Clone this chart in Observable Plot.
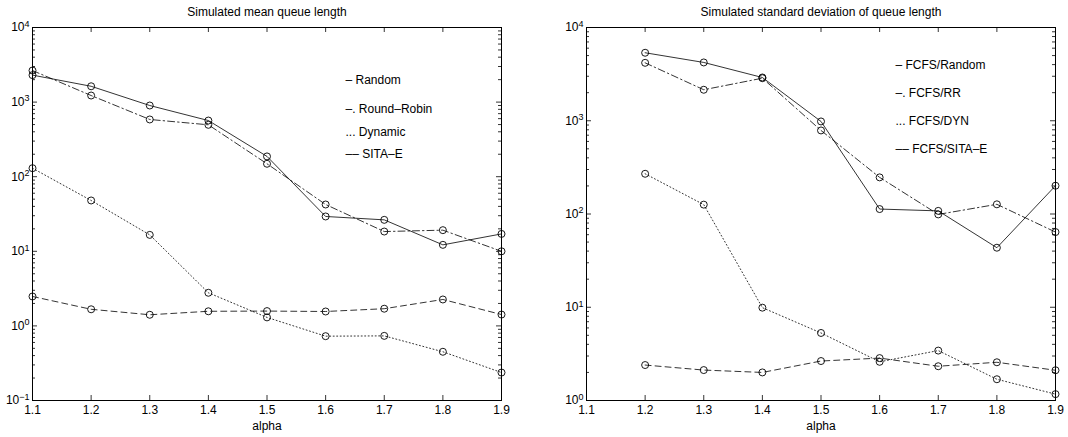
<!DOCTYPE html>
<html><head><meta charset="utf-8">
<script src="https://cdn.jsdelivr.net/npm/d3@7"></script>
<script src="https://cdn.jsdelivr.net/npm/@observablehq/plot@0.6"></script>
<style>
body{margin:0;background:#fff;}
#wrap{display:flex;width:1068px;height:437px;}
</style></head><body><div id="wrap"></div>
<script>
// ---- data ----
const alphaTicks = [1.1,1.2,1.3,1.4,1.5,1.6,1.7,1.8,1.9];
const alphaMean = [1.1,1.2,1.3,1.4,1.5,1.6,1.7,1.8,1.9];
const alphaStd = [1.2,1.3,1.4,1.5,1.6,1.7,1.8,1.9];

const meanRandom     = [2300,1630,900,566,187,29.3,26.4,12.2,17.1];
const meanRoundRobin = [2650,1225,585,496,149,42.4,18.4,19.2,10.0];
const meanDynamic    = [130,48,16.6,2.78,1.30,0.728,0.735,0.45,0.237];
const meanSitaE      = [2.48,1.67,1.41,1.57,1.58,1.56,1.70,2.26,1.42];

const stdRandom = [5360,4220,2910,983,113,108,43.5,201];
const stdRR     = [4180,2150,2860,787,247,99,127,64];
const stdDyn    = [270,126,9.9,5.3,2.6,3.43,1.69,1.17];
const stdSitaE  = [2.40,2.12,2.00,2.65,2.85,2.33,2.57,2.11];

const meanLegend = ["– Random","–. Round–Robin","... Dynamic","–– SITA–E"];
const stdLegend  = ["– FCFS/Random","–. FCFS/RR","... FCFS/DYN","–– FCFS/SITA–E"];

const meanMajors = [0.1,1,10,100,1000,10000];
const stdMajors  = [1,10,100,1000,10000];

const titles = ["Simulated mean queue length","Simulated standard deviation of queue length"];
const xLabel = "alpha";

// line styles: solid, dash-dot, dotted, dashed
const dashes = [null,"7,3,1.5,3","1,2.5","6,4"];

const FS = 12;

function panel({title, xs, ys, legend, majors, ml, mr, legendDx, legendDy}) {
  const W = 534, H = 437, mt = 27, mb = 37;
  const pw = W - ml - mr, ph = H - mt - mb;
  const minors = [];
  for (let i = 0; i < majors.length - 1; i++) for (let k = 2; k <= 9; k++) minors.push(majors[i] * k);
  const marks = [];
  ys.forEach((arr, si) => {
    const rows = xs.map((x, i) => ({alpha: x, value: arr[i]}));
    marks.push(Plot.line(rows, {x: "alpha", y: "value", stroke: "black", strokeWidth: 0.8,
      strokeDasharray: dashes[si] || undefined}));
    marks.push(Plot.dot(rows, {x: "alpha", y: "value", r: 3.5, stroke: "black", strokeWidth: 0.9, fill: "none"}));
  });
  const tk = {stroke: "black", strokeWidth: 0.8};
  marks.push(
    Plot.tickX(alphaTicks, {x: d => d, insetTop: ph - 5, ...tk}),
    Plot.tickX(alphaTicks, {x: d => d, insetBottom: ph - 5, ...tk}),
    Plot.tickY(majors, {y: d => d, insetRight: pw - 5, ...tk}),
    Plot.tickY(majors, {y: d => d, insetLeft: pw - 5, ...tk}),
    Plot.tickY(minors, {y: d => d, insetRight: pw - 3, ...tk}),
    Plot.tickY(minors, {y: d => d, insetLeft: pw - 3, ...tk}),
    Plot.frame({stroke: "black", strokeWidth: 1}),
    Plot.text([title], {text: d => d, frameAnchor: "top", dy: -15, lineAnchor: "middle", fontSize: FS, fill: "black"}),
    Plot.text([xLabel], {text: d => d, frameAnchor: "bottom", dy: 26, lineAnchor: "middle", fontSize: FS, fill: "black"})
  );
  legend.forEach((lab, i) => {
    marks.push(Plot.text([lab], {text: d => d, frameAnchor: "top-left", dx: legendDx, dy: legendDy[i],
      textAnchor: "start", lineAnchor: "middle", fontSize: FS, fill: "black"}));
  });
  const svg = Plot.plot({
    width: W, height: H, marginLeft: ml, marginRight: mr, marginTop: mt, marginBottom: mb,
    style: {fontFamily: "'Liberation Sans', Arial, sans-serif", fontSize: FS + "px", color: "black", background: "white"},
    x: {domain: [1.1, 1.9], ticks: alphaTicks, tickFormat: d => d.toFixed(1), tickSize: 0, tickPadding: 5, label: null},
    y: {type: "log", domain: [majors[0], majors[majors.length - 1]], ticks: majors,
        tickFormat: d => "E" + Math.round(Math.log10(d)), tickSize: 0, tickPadding: 3, label: null},
    marks
  });
  svg.querySelectorAll('g[aria-label="y-axis tick label"] text').forEach(t => {
    const e = t.textContent.replace(/^E/, "").replace("-", "−");
    t.textContent = "10";
    const ts = document.createElementNS("http://www.w3.org/2000/svg", "tspan");
    ts.setAttribute("dy", "-0.5em");
    ts.setAttribute("font-size", "9px");
    ts.textContent = e;
    t.appendChild(ts);
  });
  return svg;
}

const wrap = document.getElementById("wrap");
wrap.appendChild(panel({
  title: titles[0], xs: alphaMean,
  ys: [meanRandom, meanRoundRobin, meanDynamic, meanSitaE],
  legend: meanLegend, majors: meanMajors, ml: 32, mr: 33,
  legendDx: 313, legendDy: [53, 82, 105, 127]
}));
wrap.appendChild(panel({
  title: titles[1], xs: alphaStd,
  ys: [stdRandom, stdRR, stdDyn, stdSitaE],
  legend: stdLegend, majors: stdMajors, ml: 52, mr: 13,
  legendDx: 309, legendDy: [38, 66, 94, 122]
}));
</script></body></html>
